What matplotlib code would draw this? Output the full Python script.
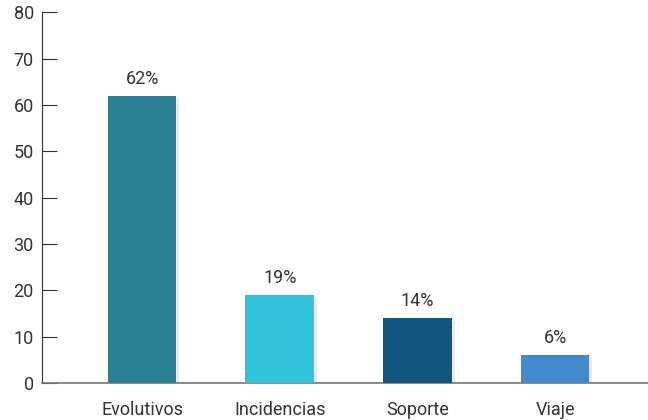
import matplotlib
matplotlib.use("Agg")
import matplotlib.pyplot as plt
import matplotlib.patheffects as pe

categorias = ["Evolutivos", "Incidencias", "Soporte", "Viaje"]
valores = [62, 19, 14, 6]
colores = ["#2a7f93", "#31c3dc", "#12577f", "#428acb"]

plt.rcParams['font.family'] = ['Roboto', 'DejaVu Sans']

fig = plt.figure(figsize=(6.48, 4.2), dpi=100)
ax = fig.add_axes([0.065, 0.088, 0.935, 0.883])

x = range(len(categorias))
barras = ax.bar(x, valores, width=0.5, color=colores, zorder=3)
for b in barras:
    b.set_path_effects([pe.SimplePatchShadow(offset=(2, -2), shadow_rgbFace='#000000', alpha=0.08),
                        pe.Normal()])

# etiquetas de porcentaje
for xi, v in zip(x, valores):
    ax.text(xi, v + 1.7, f"{v}%", ha='center', va='bottom', fontsize=13, color='#333333')

ax.set_xlim(-0.726, 3.675)
ax.set_ylim(0, 80)
ax.set_yticks(range(0, 81, 10))
ax.set_xticks(list(x))
ax.set_xticklabels(categorias, fontsize=13, color='#333333')

ax.spines['top'].set_visible(False)
ax.spines['right'].set_visible(False)
ax.spines['left'].set_color('#333333')
ax.spines['bottom'].set_color('#777777')
ax.spines['bottom'].set_linewidth(1.2)

ax.tick_params(axis='y', direction='in', length=11, color='#333333', labelsize=13,
               labelcolor='#333333', pad=6)
ax.tick_params(axis='x', length=0, pad=13)

fig.savefig("out.png", dpi=100)
